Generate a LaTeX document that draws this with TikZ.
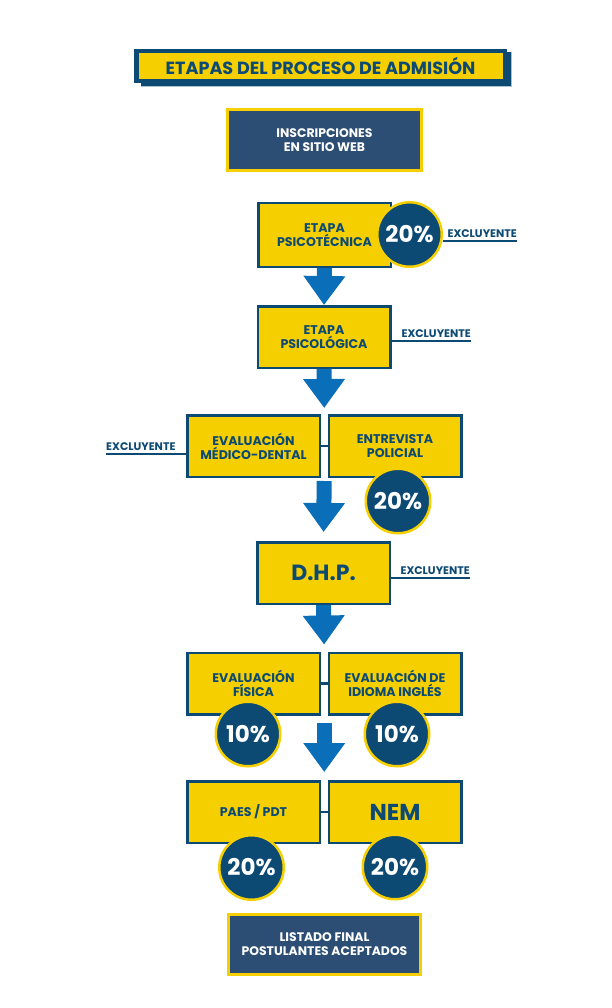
\documentclass[tikz,border=0pt]{standalone}
\usepackage{fontspec}
\setmainfont{Poppins}
\usetikzlibrary{arrows.meta,calc}
\definecolor{boxyellow}{HTML}{F5CF00}
\definecolor{navy}{HTML}{0C4A74}
\definecolor{webblue}{HTML}{2D4E74}
\definecolor{arrowblue}{HTML}{0A6EB8}
\begin{document}
\begin{tikzpicture}[x=1pt,y=-1pt,
  stagebox/.style={draw=navy,fill=boxyellow,line width=2.5pt,minimum width=132.5pt,minimum height=61.5pt,
    inner sep=0pt,align=center,text=navy,font=\bfseries\fontsize{12.6}{14}\selectfont},
  webbox/.style={draw=boxyellow,fill=webblue,line width=3pt,minimum width=194pt,minimum height=61pt,
    inner sep=0pt,align=center,text=white,font=\bfseries\fontsize{12.4}{14}\selectfont},
  pct/.style={circle,draw=boxyellow,fill=navy,line width=2.5pt,minimum size=64.5pt,inner sep=0pt,
    text=white,font=\bfseries\fontsize{23}{24}\selectfont},
  excl/.style={inner xsep=0pt,inner ysep=4pt,text=navy,font=\bfseries\fontsize{11}{12}\selectfont},
  exline/.style={draw=navy,line width=2pt},
  link/.style={draw=navy,line width=2.5pt},
  flow/.style={draw=arrowblue,line width=15pt,-{Triangle[width=40pt,length=29pt]}}
]
  \fill[white] (0,0) rectangle (612,1008);
  \useasboundingbox (0,0) rectangle (612,1008);

  % title
  \fill[navy] (141,52) rectangle (511,86);
  \draw[navy!35,line width=0.8pt] (141,86) -- (511,86) -- (511,52);
  \node[draw=navy,fill=boxyellow,line width=4.5pt,minimum width=368.5pt,minimum height=30pt,inner sep=0pt,
    text=navy,font=\bfseries\fontsize{17.6}{18}\selectfont] (title) at (320.5,66) {ETAPAS DEL PROCESO DE ADMISIÓN};

  \node[webbox] (web) at (324.5,140) {INSCRIPCIONES\\EN SITIO WEB};

  \node[stagebox,minimum height=63.5pt] (psicotec) at (324.5,235) {ETAPA\\PSICOTÉCNICA};
  \node[stagebox] (psicol) at (324,337) {ETAPA\\PSICOLÓGICA};
  \node[stagebox] (medico) at (253.5,446) {EVALUACIÓN\\MÉDICO-DENTAL};
  \node[stagebox] (entrev) at (395,446) {ENTREVISTA\\POLICIAL};
  \node[stagebox,font=\bfseries\fontsize{22}{24}\selectfont] (dhp) at (323.5,573) {D.H.P.};
  \node[stagebox] (fisica) at (253.5,683.5) {EVALUACIÓN\\FÍSICA};
  \node[stagebox] (ingles) at (395,683.5) {EVALUACIÓN DE\\IDIOMA INGLÉS};
  \node[stagebox] (paes) at (253.5,812) {PAES / PDT};
  \node[stagebox,font=\bfseries\fontsize{23}{24}\selectfont] (nem) at (395,812) {NEM};

  \node[webbox,minimum width=192pt,minimum height=60pt] (final) at (324.5,944.5) {LISTADO FINAL\\POSTULANTES ACEPTADOS};

  % links between twin boxes
  \draw[link] (medico.east) -- (entrev.west);
  \draw[link] (fisica.east) -- (ingles.west);
  \draw[link] (paes.east) -- (nem.west);

  % weights
  \node[pct] (c1) at (409.5,234.5) {20\%};
  \node[pct] (c2) at (398,501) {20\%};
  \node[pct] (c3) at (248,734) {10\%};
  \node[pct] (c4) at (397,734) {10\%};
  \node[pct] (c5) at (251.5,867.5) {20\%};
  \node[pct] (c6) at (395,867) {20\%};

  % excluyente labels
  \node[excl,anchor=base east] (x1) at (517,237) {EXCLUYENTE};
  \draw[exline] (c1.east |- x1.south) -- (x1.south east);
  \node[excl,anchor=base east] (x2) at (471,337) {EXCLUYENTE};
  \draw[exline] (psicol.east |- x2.south) -- (x2.south east);
  \node[excl,anchor=base west] (x3) at (106,450) {EXCLUYENTE};
  \draw[exline] (x3.south west) -- (medico.west |- x3.south);
  \node[excl,anchor=base east] (x4) at (470,574) {EXCLUYENTE};
  \draw[exline] (dhp.east |- x4.south) -- (x4.south east);

  % flow arrows
  \coordinate (top3) at ($(medico.north east)!.5!(entrev.north west)$);
  \coordinate (bot3) at ($(medico.south east)!.5!(entrev.south west)$);
  \coordinate (top5) at ($(fisica.north east)!.5!(ingles.north west)$);
  \coordinate (bot5) at ($(fisica.south east)!.5!(ingles.south west)$);
  \coordinate (top6) at ($(paes.north east)!.5!(nem.north west)$);
  \draw[flow] (psicotec.south) -- (psicol.north);
  \draw[flow,shorten >=6pt] (psicol.south) -- (top3);
  \draw[flow,shorten <=3pt,shorten >=9pt] (bot3) -- (dhp.north);
  \draw[flow,shorten >=7pt] (dhp.south) -- (top5);
  \draw[flow,shorten <=7pt,shorten >=8pt] (bot5) -- (top6);
\end{tikzpicture}
\end{document}
